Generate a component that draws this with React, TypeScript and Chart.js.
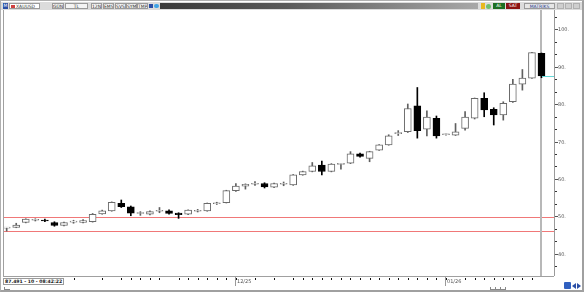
import React, { useEffect, useRef } from 'react';
import { Chart, registerables } from 'chart.js';

Chart.register(...registerables);

// ---- data ----
const opens = [
  46.9, 47.1, 48.4, 49.0, 49.0, 48.4, 47.6, 48.5, 48.4, 48.6,
  50.7, 51.5, 53.5, 52.6, 50.8, 50.6, 51.4, 51.5, 50.9, 50.6,
  51.4, 51.5, 53.4, 53.7, 56.9, 58.1, 58.6, 58.8, 57.8, 58.6,
  58.4, 61.1, 62.0, 63.7, 62.0, 63.9, 64.2, 66.7, 65.5, 67.7,
  69.1, 72.1, 72.6, 79.5, 73.3, 76.2, 71.8, 71.7, 73.5, 76.2,
  81.5, 78.6, 77.1, 80.6, 85.3, 86.9, 93.5,
];
const highs = [
  47.1, 48.2, 49.4, 49.4, 49.3, 48.6, 48.5, 49.0, 49.2, 50.8,
  51.7, 53.9, 54.4, 52.8, 51.3, 51.5, 52.4, 51.8, 51.0, 51.8,
  51.9, 53.6, 53.8, 57.0, 58.8, 58.7, 59.3, 59.0, 58.9, 59.2,
  61.2, 62.1, 64.4, 64.8, 64.1, 64.1, 67.3, 66.9, 67.4, 69.2,
  71.8, 72.9, 80.0, 84.4, 78.2, 76.8, 72.0, 74.8, 78.0, 81.6,
  83.0, 79.0, 80.6, 86.6, 89.2, 93.8, 93.6,
];
const lows = [
  46.1, 47.0, 48.3, 48.8, 48.6, 47.4, 47.5, 48.2, 48.3, 48.5,
  50.6, 51.4, 52.4, 50.2, 50.3, 50.4, 51.0, 50.6, 49.5, 50.5,
  51.2, 51.4, 53.2, 53.6, 56.7, 57.3, 58.3, 57.6, 57.7, 58.2,
  58.3, 61.0, 61.9, 61.1, 61.9, 62.6, 64.1, 65.8, 64.6, 67.6,
  69.0, 71.6, 72.4, 70.9, 71.5, 70.9, 71.7, 71.6, 73.0, 76.0,
  76.6, 74.4, 75.7, 80.4, 83.7, 86.8, 87.0,
];
const closes = [
  47.0, 47.7, 49.3, 49.1, 48.8, 47.6, 48.4, 48.6, 48.9, 50.6,
  51.5, 53.8, 52.6, 50.9, 50.9, 51.3, 51.5, 50.8, 50.5, 51.7,
  51.5, 53.5, 53.5, 56.9, 58.1, 58.6, 58.7, 57.9, 58.8, 58.7,
  61.1, 62.0, 63.5, 62.0, 64.0, 64.0, 66.7, 66.0, 67.3, 69.1,
  71.5, 72.2, 78.8, 72.9, 76.5, 71.5, 71.9, 72.6, 76.5, 81.5,
  78.4, 77.1, 80.2, 85.3, 86.9, 93.7, 87.491,
];
const supportLevels = [49.87, 46.13];
const lastPrice = 87.491;
const yLabelValues = [40, 50, 60, 70, 80, 90, 100];
const yLabelTexts = ['40.', '50.', '60.', '70.', '80.', '90.', '100.'];
const dayTickIndexes = [
  7, 10, 12, 13, 14, 15, 16, 18, 19, 20, 21, 22, 23, 24, 26, 28,
  30, 31, 32, 33, 34, 35, 36, 37, 38, 39, 40, 41, 42, 43, 44, 45,
  46, 48, 49, 50, 51, 52, 53, 54, 55,
];
const monthLabelIndexes = [24, 46];
const monthLabelTexts = ['12/25', '01/26'];

const FONT = '"DejaVu Sans", sans-serif';

const framePlugin = {
  id: 'frame',
  beforeDatasetsDraw(chart: any) {
    const { ctx, chartArea: a, scales } = chart;
    const x = scales.x;
    const y = scales.y;
    ctx.save();
    ctx.fillStyle = '#a0a0a0';
    ctx.fillRect(a.left - 1, a.top, 1, a.bottom - a.top);
    ctx.fillStyle = 'rgb(240, 120, 120)';
    supportLevels.forEach((v) => {
      const py = Math.round(y.getPixelForValue(v));
      ctx.fillRect(a.left, py, a.right - a.left, 1);
    });
    const px = Math.round(x.getPixelForValue(opens.length - 1));
    ctx.fillStyle = '#b8b8b8';
    ctx.fillRect(px - 1, a.top, 2, a.bottom - a.top);
    ctx.restore();
  },
  afterDraw(chart: any) {
    const { ctx, chartArea: a, scales } = chart;
    const x = scales.x;
    const y = scales.y;
    ctx.save();
    const lx = Math.round(x.getPixelForValue(opens.length - 1)) + 1;
    const ly = Math.round(y.getPixelForValue(lastPrice));
    ctx.fillStyle = '#62d6d6';
    ctx.fillRect(lx, ly, a.right - lx, 1);
    ctx.fillStyle = '#9a9a9a';
    ctx.fillRect(a.right, a.top, 1, a.bottom - a.top);
    ctx.fillStyle = '#333';
    for (let k = -1; k <= 19; k++) {
      const v = 40 + (k * 10) / 3;
      if (v < y.min || v > y.max) continue;
      const py = Math.round(y.getPixelForValue(v));
      ctx.fillRect(a.right + 1, py, 2, 1);
    }
    ctx.font = `5px ${FONT}`;
    ctx.textBaseline = 'middle';
    ctx.textAlign = 'left';
    yLabelValues.forEach((v, i) => {
      const py = Math.round(y.getPixelForValue(v));
      ctx.fillStyle = '#555';
      ctx.fillRect(a.right + 1, py, 3, 1);
      ctx.fillText(yLabelTexts[i], a.right + 4, py + 0.5);
    });
    ctx.fillStyle = '#a0a0a0';
    ctx.fillRect(a.left - 1, a.bottom, a.right - a.left + 1, 1);
    ctx.fillStyle = '#111';
    dayTickIndexes.forEach((i) => {
      const px = Math.round(x.getPixelForValue(i));
      ctx.fillRect(px, a.bottom + 2, 1, 2);
    });
    monthLabelIndexes.forEach((i, k) => {
      const px = Math.round(x.getPixelForValue(i));
      ctx.fillStyle = '#9a9a9a';
      ctx.fillRect(px - 1, a.bottom + 1, 1, 9);
      ctx.fillStyle = '#555';
      ctx.font = `5px ${FONT}`;
      ctx.textBaseline = 'middle';
      ctx.fillText(monthLabelTexts[k], px + 1, a.bottom + 6);
    });
    ctx.restore();
  },
};

function CandleChart() {
  const ref = useRef<HTMLCanvasElement | null>(null);
  useEffect(() => {
    if (!ref.current) return;
    const idx = opens.map((_, i) => i);
    const down = idx.map((i) => closes[i] < opens[i]);
    const chart = new Chart(ref.current, {
      type: 'bar',
      data: {
        datasets: [
          {
            label: 'body',
            data: idx.map((i) => ({ x: i, y: [opens[i], closes[i]] })) as any,
            grouped: false,
            barThickness: 7,
            minBarLength: 1,
            borderSkipped: false,
            borderWidth: 1,
            backgroundColor: down.map((d) => (d ? '#000000' : '#ffffff')),
            borderColor: down.map((d) => (d ? '#000000' : '#6a6a6a')),
            order: 0,
          } as any,
          {
            label: 'wick',
            data: idx.map((i) => ({ x: i, y: [lows[i], highs[i]] })) as any,
            grouped: false,
            barThickness: 1,
            borderWidth: 0,
            backgroundColor: down.map((d) => (d ? '#000000' : '#606060')),
            order: 1,
          } as any,
        ],
      },
      options: {
        animation: false,
        responsive: false,
        maintainAspectRatio: false,
        events: [],
        layout: { padding: { left: 4, right: 30, top: 0, bottom: 16 } },
        plugins: { legend: { display: false }, tooltip: { enabled: false } },
        scales: {
          x: { type: 'linear', display: false, min: -0.28, max: 57.31, offset: false },
          y: { display: false, min: 34.13, max: 105.07 },
        },
      } as any,
      plugins: [framePlugin],
    });
    return () => chart.destroy();
  }, []);
  return (
    <canvas
      ref={ref}
      width={584}
      height={282}
      style={{ position: 'absolute', left: 0, top: 10, width: 584, height: 282 }}
    />
  );
}

const box = (left: number, width: number, text: string, extra: any = {}) => (
  <div
    style={{
      position: 'absolute',
      left,
      top: 3,
      width,
      height: 6,
      border: '1px solid #9a9a9a',
      background: '#f4f4f4',
      fontSize: 4.5,
      lineHeight: '6px',
      color: '#333',
      textAlign: 'center',
      boxSizing: 'border-box',
      overflow: 'hidden',
      ...extra,
    }}
  >
    {text}
  </div>
);

export default function App() {
  return (
    <div
      style={{
        position: 'fixed',
        left: 0,
        top: 0,
        width: 584,
        height: 292,
        background: '#ffffff',
        fontFamily: FONT,
        overflow: 'hidden',
      }}
    >
      <div style={{ position: 'absolute', left: 1, top: 2, width: 581, height: 8, background: '#dcdcdc' }} />
      <div style={{ position: 'absolute', left: 3, top: 3, width: 5, height: 6, background: '#2b4fa6', color: '#fff', fontSize: 4.5, lineHeight: '6px', textAlign: 'center' }}>M</div>
      <div style={{ position: 'absolute', left: 9, top: 3, width: 31, height: 6, background: '#fff', border: '1px solid #9a9a9a', boxSizing: 'border-box' }}>
        <div style={{ position: 'absolute', left: 1, top: 1, width: 4, height: 3, background: '#d04040' }} />
        <div style={{ position: 'absolute', left: 6, top: 0, fontSize: 4.5, lineHeight: '5px', color: '#333' }}>XAUUSD</div>
      </div>
      {box(52, 12, 'GÜN')}
      {box(65, 23, 'TL')}
      {box(91, 11, '12N')}
      {box(103, 11, 'EMS')}
      {box(115, 11, 'SVS')}
      {box(126, 11, 'SYM')}
      {box(137, 11, 'TMP')}
      <div style={{ position: 'absolute', left: 149, top: 4, width: 4, height: 4, background: '#2b4fa6' }} />
      <div style={{ position: 'absolute', left: 154, top: 4, width: 5, height: 4, background: '#3fa3e6', borderRadius: 2 }} />
      <div style={{ position: 'absolute', left: 160, top: 3, width: 318, height: 6, background: 'linear-gradient(to right, #3a3a3a, #5a5a5a 40%, #a8a8a8)' }} />
      <div style={{ position: 'absolute', left: 481, top: 3, width: 4, height: 6, background: '#e8b820' }} />
      <div style={{ position: 'absolute', left: 486, top: 4, width: 5, height: 5, background: '#6fbf6f', borderRadius: 3 }} />
      <div style={{ position: 'absolute', left: 493, top: 3, width: 12, height: 6, background: '#1d6e22', color: '#fff', fontSize: 4.5, lineHeight: '6px', textAlign: 'center' }}>AL</div>
      <div style={{ position: 'absolute', left: 506, top: 3, width: 14, height: 6, background: '#8c1212', color: '#fff', fontSize: 4.5, lineHeight: '6px', textAlign: 'center' }}>SAT</div>
      {box(524, 31, 'MATRİKS', { color: '#2b3d8f', background: '#e6e6e6' })}
      <div style={{ position: 'absolute', left: 557, top: 3, width: 7, height: 6, background: '#cfcfcf', border: '1px solid #b0b0b0', boxSizing: 'border-box' }} />
      <div style={{ position: 'absolute', left: 565, top: 3, width: 7, height: 6, background: '#cfcfcf', border: '1px solid #b0b0b0', boxSizing: 'border-box' }} />
      <div style={{ position: 'absolute', left: 573, top: 3, width: 7, height: 6, background: '#cfcfcf', border: '1px solid #b0b0b0', boxSizing: 'border-box' }} />

      <CandleChart />

      <div style={{ position: 'absolute', left: 3, top: 278, width: 61, height: 7, background: '#fff', border: '1px solid #9a9a9a', boxSizing: 'border-box', fontSize: 4.6, lineHeight: '5px', color: '#222', fontWeight: 'bold', whiteSpace: 'nowrap', paddingLeft: 1 }}>
        87.491 - 10 - 08:42:22
      </div>
      <div style={{ position: 'absolute', left: 4, top: 287, width: 5, height: 2, borderLeft: '1px solid #888', borderBottom: '1px solid #888' }} />
      <div style={{ position: 'absolute', left: 490, top: 287, width: 4, height: 2, borderLeft: '1px solid #888', borderBottom: '1px solid #888' }} />
      <div style={{ position: 'absolute', left: 495, top: 287, width: 4, height: 2, borderLeft: '1px solid #888', borderBottom: '1px solid #888' }} />
      <div style={{ position: 'absolute', left: 500, top: 287, width: 4, height: 2, borderLeft: '1px solid #888', borderBottom: '1px solid #888', borderRight: '1px solid #888' }} />
      <div style={{ position: 'absolute', left: 564, top: 282, width: 7, height: 7, background: '#3060c0', borderRadius: 1 }} />
      <div style={{ position: 'absolute', left: 572, top: 283, width: 0, height: 0, borderTop: '3px solid transparent', borderBottom: '3px solid transparent', borderRight: '4px solid #2b4fa6' }} />
      <div style={{ position: 'absolute', left: 577, top: 283, width: 0, height: 0, borderTop: '3px solid transparent', borderBottom: '3px solid transparent', borderLeft: '4px solid #2b4fa6' }} />

      <div style={{ position: 'absolute', left: 0, top: 0, width: 584, height: 292, border: '1px solid #b0b0b0', borderRight: '2px solid #a0a0a0', borderBottom: '2px solid #a0a0a0', boxSizing: 'border-box', pointerEvents: 'none' }} />
    </div>
  );
}
